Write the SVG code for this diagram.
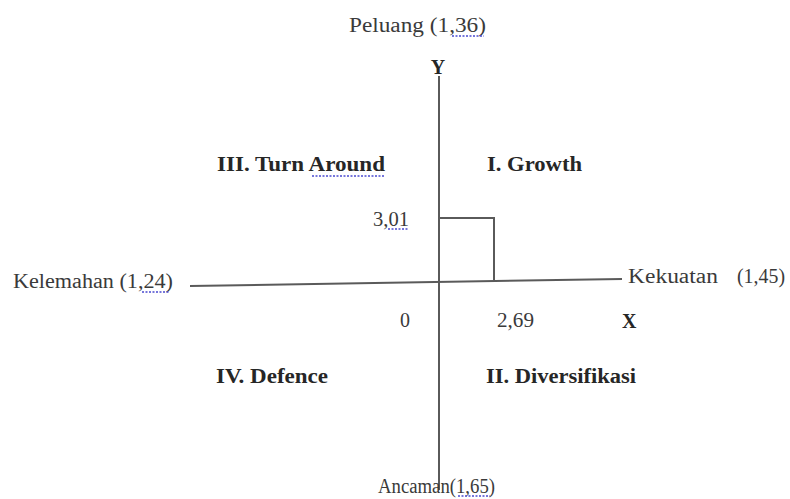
<svg xmlns="http://www.w3.org/2000/svg" width="790" height="499" viewBox="0 0 790 499">
<style>
.t{font-family:"Liberation Serif","Times New Roman",serif;font-size:20px;fill:#3a3a3a}
.b{font-weight:bold;fill:#262626}
.ax{stroke:#5a5a5a;stroke-width:2;fill:none}
.sq{stroke:#4a4ad0;stroke-width:1.3;stroke-dasharray:2 1.5;fill:none}
</style>
<rect width="790" height="499" fill="#fff"/>
<g id="connectors">
<line class="ax" x1="439" y1="76" x2="439" y2="490"/>
<line class="ax" x1="190" y1="286" x2="622" y2="279"/>
<polyline class="ax" points="439,218 494,218 494,280"/>
</g>
<g id="top"><text class="t" x="349" y="32" textLength="137" lengthAdjust="spacingAndGlyphs">Peluang (1,36)</text><path class="sq" d="M452 36 L484 36"/></g>
<g id="y-label"><text class="t b" x="438" y="74" text-anchor="middle">Y</text></g>
<g id="q3"><text class="t b" x="217" y="171" textLength="168" lengthAdjust="spacingAndGlyphs">III. Turn Around</text><path class="sq" d="M312 176 L385 176"/></g>
<g id="q1"><text class="t b" x="487" y="171" textLength="95" lengthAdjust="spacingAndGlyphs">I. Growth</text></g>
<g id="y-value"><text class="t" x="373" y="226" textLength="36" lengthAdjust="spacingAndGlyphs">3,01</text><path class="sq" d="M388 229 L408 229"/></g>
<g id="left"><text class="t" x="13" y="288" textLength="160" lengthAdjust="spacingAndGlyphs">Kelemahan (1,24)</text><path class="sq" d="M142 292 L170 292"/></g>
<g id="right"><text class="t" x="628" y="283" textLength="90" lengthAdjust="spacingAndGlyphs">Kekuatan</text><text class="t" x="737" y="283" textLength="48" lengthAdjust="spacingAndGlyphs">(1,45)</text></g>
<g id="origin"><text class="t" x="400" y="327">0</text></g>
<g id="x-value"><text class="t" x="497" y="327" textLength="37" lengthAdjust="spacingAndGlyphs">2,69</text></g>
<g id="x-label"><text class="t b" x="622" y="328">X</text></g>
<g id="q4"><text class="t b" x="216" y="383" textLength="112" lengthAdjust="spacingAndGlyphs">IV. Defence</text></g>
<g id="q2"><text class="t b" x="486" y="383" textLength="150" lengthAdjust="spacingAndGlyphs">II. Diversifikasi</text></g>
<g id="bottom"><text class="t" x="378" y="493" textLength="117" lengthAdjust="spacingAndGlyphs">Ancaman(1,65)</text><path class="sq" d="M458 496 L490 496"/></g>
</svg>
